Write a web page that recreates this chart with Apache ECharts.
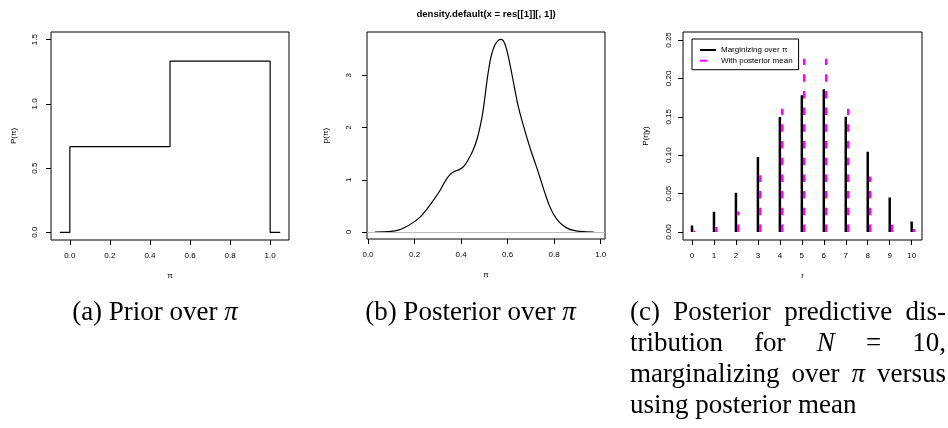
<!DOCTYPE html>
<html><head><meta charset="utf-8">
<script src="https://cdn.jsdelivr.net/npm/echarts@6/dist/echarts.min.js"></script>
<style>html,body{margin:0;padding:0;background:#fff}#c{width:948px;height:428px}</style>
</head><body><div id="c"></div>
<script>
// ---------- data ----------
const priorX = [-0.05, 0, 0, 0.5, 0.5, 1, 1, 1.05];
const priorY = [0, 0, 0.667, 0.667, 1.333, 1.333, 0, 0];

const densX = [0.03,0.06,0.10,0.13,0.16,0.19,0.22,0.25,0.28,0.31,0.33,0.35,0.37,0.39,0.41,0.43,0.45,0.47,0.49,0.50,0.51,0.52,0.53,0.545,0.56,0.57,0.58,0.59,0.60,0.615,0.63,0.645,0.66,0.68,0.70,0.72,0.74,0.76,0.78,0.80,0.82,0.84,0.86,0.88,0.91,0.94,0.97];
const densY = [0.0,0.003,0.012,0.035,0.09,0.17,0.27,0.42,0.6,0.8,0.96,1.09,1.16,1.19,1.25,1.38,1.55,1.8,2.2,2.5,2.85,3.15,3.38,3.58,3.67,3.69,3.67,3.58,3.42,3.1,2.75,2.42,2.16,1.85,1.56,1.3,1.03,0.75,0.5,0.32,0.2,0.12,0.065,0.035,0.012,0.003,0.0];

const rVals = [0,1,2,3,4,5,6,7,8,9,10];
const margY = [0.0086,0.0264,0.0512,0.0977,0.1497,0.178,0.186,0.150,0.1045,0.045,0.0138];
const meanY = [0.0017,0.0065,0.0268,0.074,0.1605,0.2256,0.2256,0.1605,0.0724,0.0095,0.0039];

const xTicksA = [0,0.2,0.4,0.6,0.8,1.0];
const yTicksA = [0,0.5,1.0,1.5];
const xTicksB = [0,0.2,0.4,0.6,0.8,1.0];
const yTicksB = [0,1,2,3];
const xTicksC = [0,1,2,3,4,5,6,7,8,9,10];
const yTicksC = [0,0.05,0.10,0.15,0.20,0.25];

const legendNames = ['Marginizing over \u03c0', 'With posterior mean'];
const titleB = 'density.default(x = res[[1]][, 1])';

// ---------- helpers ----------
const SANS = '"Liberation Sans", Arial, Helvetica, sans-serif';
function xAx(idx, min, max, ticks, dec, name, gap){
  return {type:'value', gridIndex:idx, min:min, max:max, name:name, nameLocation:'middle', nameGap:gap,
    nameTextStyle:{fontFamily:SANS, fontSize:8, color:'#000'},
    axisLine:{show:false, onZero:false},
    axisTick:{show:true, inside:false, length:5, customValues:ticks, lineStyle:{color:'#000', width:1}},
    axisLabel:{show:true, customValues:ticks, margin:12, fontFamily:SANS, fontSize:8, color:'#000',
      formatter:function(v){return Number(v).toFixed(dec);}},
    splitLine:{show:false}};
}
function yAx(idx, min, max, ticks, dec, name, gap, margin){
  return {type:'value', gridIndex:idx, min:min, max:max, name:name, nameLocation:'middle', nameGap:gap,
    nameTextStyle:{fontFamily:SANS, fontSize:8, color:'#000'},
    axisLine:{show:false, onZero:false},
    axisTick:{show:true, inside:false, length:5, customValues:ticks, lineStyle:{color:'#000', width:1}},
    axisLabel:{show:true, rotate:90, customValues:ticks, margin:margin, fontFamily:SANS, fontSize:8, color:'#000',
      formatter:function(v){return Number(v).toFixed(dec);}},
    splitLine:{show:false}};
}
function zip(xs, ys){ return xs.map(function(x,i){return [x, ys[i]];}); }
function stems(xs, ys, off){
  const d = [];
  xs.forEach(function(x,i){ d.push([x+off,0]); d.push([x+off,ys[i]]); d.push([x+off,'-']); });
  return d;
}

// ---------- captions ----------
const CAP_FAMILY = '"Liberation Serif", "Times New Roman", serif';
const CAP_SIZE = 27;
const CAP_LINE = 31;
const mctx = document.createElement('canvas').getContext('2d');
function segFont(s){ return (s.i?'italic ':'normal ') + 'normal ' + CAP_SIZE + 'px ' + CAP_FAMILY; }
function segW(s){ mctx.font = segFont(s); return mctx.measureText(s.t).width; }
const SPACE = segW({t:' ', i:false});
function W(str){ return [{t:str.replace(/^_/, ''), i:str.charAt(0)==='_'}]; }
function wordW(word){ return word.reduce(function(a,s){return a+segW(s);},0); }
function placeLine(strs, mode, x0, x1, y, out){
  const words = strs.map(W);
  const ws = words.map(wordW);
  const total = ws.reduce(function(a,b){return a+b;},0);
  let gap = SPACE, x = x0;
  if (mode==='justify' && words.length>1){ gap = (x1-x0-total)/(words.length-1); }
  else if (mode==='center'){ x = (x0+x1)/2 - (total + SPACE*(words.length-1))/2; }
  words.forEach(function(word){
    word.forEach(function(s){
      out.push({type:'text', x:x, y:y, silent:true,
        style:{text:s.t, fontFamily:CAP_FAMILY, fontSize:CAP_SIZE, fontStyle:s.i?'italic':'normal',
          fill:'#000', align:'left', verticalAlign:'middle'}});
      x += segW(s);
    });
    x += gap;
  });
}
const capA = ['(a)','Prior','over','_\u03c0'];
const capB = ['(b)','Posterior','over','_\u03c0'];
const capC = [
  [['(c)','Posterior','predictive','dis-'], 'justify'],
  [['tribution','for','_N','=','10,'], 'justify'],
  [['marginalizing','over','_\u03c0','versus'], 'justify'],
  [['using','posterior','mean'], 'left']
];
const capY0 = 313;
const graphics = [];
placeLine(capA, 'center', 65, 245, capY0, graphics);
placeLine(capB, 'center', 356, 585, capY0, graphics);
capC.forEach(function(l, k){ placeLine(l[0], l[1], 630, 946, capY0 + k*CAP_LINE, graphics); });

// ---------- chart ----------
const chart = echarts.init(document.getElementById('c'), null, {renderer:'canvas'});
const gridBase = {show:true, borderColor:'#000', borderWidth:1, backgroundColor:'transparent', containLabel:false, outerBoundsMode:'none'};
chart.setOption({
  animation:false,
  backgroundColor:'#fff',
  title:{text:titleB, left:486, top:9, textAlign:'center', padding:0,
    textStyle:{fontFamily:SANS, fontSize:9.6, fontWeight:'bold', color:'#000'}},
  legend:{data:legendNames, orient:'vertical', left:692, top:39, padding:[7,6,5,7],
    itemWidth:16, itemHeight:8, itemGap:2.7, borderColor:'#000', borderWidth:1, borderRadius:0,
    selectedMode:false, itemStyle:{opacity:0},
    textStyle:{fontFamily:SANS, fontSize:8, color:'#000'}},
  grid:[
    Object.assign({left:51, top:32, width:238, height:208}, gridBase),
    Object.assign({left:367, top:32, width:238, height:207}, gridBase),
    Object.assign({left:683, top:32, width:239, height:208}, gridBase)
  ],
  xAxis:[
    xAx(0, -0.094, 1.094, xTicksA, 1, '\u03c0', 32),
    xAx(1, -0.0043, 1.0185, xTicksB, 1, '\u03c0', 32),
    xAx(2, -0.41, 10.47, xTicksC, 0, 'r', 32)
  ],
  yAxis:[
    yAx(0, -0.06, 1.56, yTicksA, 1, 'P(\u03c0)', 33, 12),
    yAx(1, -0.134, 3.83, yTicksB, 0, 'p(\u03c0)', 37, 14),
    yAx(2, -0.0104, 0.2604, yTicksC, 2, 'P(r|y)', 33, 10)
  ],
  series:[
    {name:'prior', type:'line', xAxisIndex:0, yAxisIndex:0, data:zip(priorX, priorY),
      symbol:'none', lineStyle:{color:'#000', width:1.2}, itemStyle:{color:'#000'}, silent:true},
    {name:'density', type:'line', xAxisIndex:1, yAxisIndex:1, data:zip(densX, densY), smooth:0.3,
      symbol:'none', lineStyle:{color:'#000', width:1.2}, itemStyle:{color:'#000'}, silent:true, z:3,
      markLine:{silent:true, symbol:'none', label:{show:false}, animation:false,
        lineStyle:{color:'#bebebe', type:'solid', width:1}, data:[{yAxis:0}]}},
    {name:legendNames[0], type:'line', xAxisIndex:2, yAxisIndex:2, data:stems(rVals, margY, 0),
      symbol:'none', connectNulls:false, lineStyle:{color:'#000', width:2.5, cap:'butt'}, itemStyle:{color:'#000'}, silent:true},
    {name:legendNames[1], type:'line', xAxisIndex:2, yAxisIndex:2, data:stems(rVals, meanY, 0.11),
      symbol:'none', connectNulls:false, lineStyle:{color:'#ff00ff', width:2.5, type:[7.5,9.2], cap:'butt'}, itemStyle:{color:'#ff00ff'}, silent:true}
  ],
  graphic:graphics
});
</script>
</body></html>
